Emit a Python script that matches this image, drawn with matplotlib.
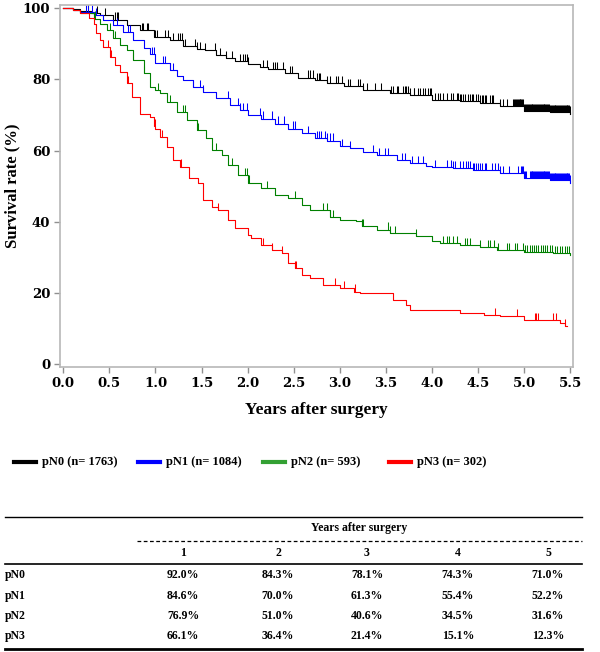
import numpy as np
import matplotlib.pyplot as plt
from matplotlib.lines import Line2D

groups = ['pN0', 'pN1', 'pN2', 'pN3']
n_patients = [1763, 1084, 593, 302]
colors = ['#000000', '#0000ff', '#008000', '#ff0000']
legend_colors = ['#000000', '#0000ff', '#33a033', '#ff0000']

# Kaplan-Meier step points (years, survival %)
t_pn0 = [0, 0.10, 0.18, 0.30, 0.40, 0.54, 0.69, 0.83, 0.98, 1.16, 1.30, 1.45, 1.54, 1.66, 1.76,
         1.86, 2.00, 2.13, 2.22, 2.40, 2.55, 2.73, 2.86, 3.04, 3.25, 3.54, 3.76, 4.00, 4.30, 4.52,
         4.74, 5.00, 5.28, 5.50]
s_pn0 = [100, 99.7, 99.2, 98.6, 98.0, 96.8, 95.2, 93.8, 92.0, 91.0, 89.4, 88.6, 88.2, 86.8, 86.0,
         85.1, 84.3, 83.5, 82.8, 81.7, 80.5, 79.8, 78.9, 78.1, 77.0, 76.2, 75.5, 74.3, 74.0, 73.5,
         72.6, 71.0, 70.8, 70.4]

t_pn1 = [0, 0.10, 0.18, 0.33, 0.43, 0.54, 0.65, 0.76, 0.87, 0.94, 1.00, 1.16, 1.23, 1.30, 1.41,
         1.52, 1.66, 1.81, 1.92, 2.00, 2.15, 2.30, 2.44, 2.59, 2.73, 2.86, 3.00, 3.11, 3.25, 3.40,
         3.62, 3.76, 3.94, 4.00, 4.23, 4.45, 4.74, 5.00, 5.28, 5.50]
s_pn1 = [100, 99.6, 99.0, 98.0, 96.6, 95.2, 93.3, 91.1, 88.7, 87.0, 84.6, 82.6, 81.0, 79.8, 77.9,
         76.5, 74.7, 72.8, 71.4, 70.0, 69.0, 67.6, 66.2, 64.8, 63.6, 62.8, 61.3, 60.6, 59.7, 58.7,
         57.3, 56.4, 55.7, 55.4, 55.0, 54.5, 53.6, 52.2, 51.7, 51.0]

t_pn2 = [0, 0.10, 0.18, 0.33, 0.40, 0.47, 0.54, 0.61, 0.69, 0.76, 0.87, 0.94, 1.00, 1.05, 1.12,
         1.23, 1.34, 1.45, 1.55, 1.61, 1.72, 1.79, 1.90, 2.00, 2.15, 2.30, 2.44, 2.59, 2.68, 2.89,
         3.00, 3.18, 3.24, 3.40, 3.54, 3.83, 4.00, 4.09, 4.30, 4.52, 4.70, 5.00, 5.31, 5.50]
s_pn2 = [100, 99.5, 98.7, 97.1, 95.7, 93.8, 91.5, 89.6, 88.2, 85.4, 81.7, 77.9, 76.9, 76.1, 73.7,
         70.9, 68.6, 65.8, 63.4, 60.1, 58.7, 55.9, 53.1, 51.0, 49.4, 47.5, 46.6, 44.7, 43.3, 41.4,
         40.6, 40.1, 38.7, 37.8, 36.8, 35.9, 34.5, 34.0, 33.5, 33.0, 32.0, 31.6, 31.2, 30.7]

t_pn3 = [0, 0.10, 0.18, 0.28, 0.33, 0.36, 0.40, 0.43, 0.51, 0.56, 0.61, 0.69, 0.74, 0.83, 0.94,
         0.98, 1.00, 1.05, 1.12, 1.19, 1.27, 1.36, 1.46, 1.52, 1.61, 1.68, 1.79, 1.86, 2.00, 2.04,
         2.15, 2.26, 2.37, 2.44, 2.51, 2.59, 2.68, 2.82, 3.00, 3.15, 3.22, 3.58, 3.72, 3.76, 4.00,
         4.30, 4.56, 4.74, 5.00, 5.39, 5.44, 5.47]
s_pn3 = [100, 99.6, 98.6, 97.2, 95.7, 93.0, 91.0, 89.1, 86.3, 84.0, 82.1, 78.9, 75.1, 70.4, 69.5,
         67.0, 66.1, 63.9, 61.1, 57.3, 55.5, 52.2, 50.8, 46.1, 44.2, 43.3, 40.5, 38.2, 36.4, 35.4,
         33.5, 32.1, 31.2, 28.3, 26.9, 25.1, 24.1, 22.3, 21.4, 20.4, 19.9, 18.0, 16.6, 15.2, 15.1,
         14.3, 13.8, 13.4, 12.3, 11.5, 10.8, 10.8]

# censored observations (years)
c_pn0 = [0.27, 0.37, 0.45, 0.56, 0.58, 0.59, 0.85, 0.86, 0.91, 0.92, 0.99, 1.02, 1.10, 1.14, 1.19,
         1.24, 1.27, 1.29, 1.32, 1.43, 1.45, 1.48, 1.54, 1.65, 1.70, 1.77, 1.83, 1.92, 1.95, 1.97,
         1.99, 2.00, 2.17, 2.21, 2.27, 2.30, 2.32, 2.38, 2.46, 2.48, 2.66, 2.68, 2.71, 2.75, 2.77,
         2.78, 2.86, 2.89, 2.96, 2.98, 3.02, 3.09, 3.11, 3.20, 3.22, 3.25, 3.29, 3.38, 3.45, 3.56,
         3.58, 3.62, 3.63, 3.69, 3.71, 3.72, 3.74, 3.76, 3.80, 3.81, 3.85, 3.87, 3.90, 3.92, 3.96,
         3.98, 3.99, 4.03, 4.07, 4.09, 4.12, 4.16, 4.21, 4.23, 4.27, 4.28, 4.30, 4.32, 4.34, 4.36,
         4.39, 4.41, 4.43, 4.45, 4.48, 4.50, 4.52, 4.54, 4.55, 4.57, 4.59, 4.63, 4.65, 4.66, 4.74,
         4.77, 4.81, 4.88, 4.89, 4.90, 4.91, 4.92, 4.93, 4.94, 4.95, 4.96, 4.97, 4.98, 4.99, 5.00,
         5.01, 5.02, 5.03, 5.04, 5.05, 5.06, 5.07, 5.08, 5.09, 5.10, 5.11, 5.12, 5.13, 5.14, 5.15,
         5.16, 5.17, 5.18, 5.19, 5.20, 5.21, 5.22, 5.23, 5.24, 5.25, 5.26, 5.27, 5.28, 5.29, 5.30,
         5.31, 5.32, 5.33, 5.34, 5.35, 5.36, 5.37, 5.38, 5.39, 5.40, 5.41, 5.42, 5.43, 5.44, 5.45,
         5.46, 5.47, 5.48, 5.49, 5.50]
c_pn1 = [0.25, 0.27, 0.31, 0.36, 0.58, 0.70, 0.72, 0.96, 0.98, 1.08, 1.10, 1.16, 1.19, 1.41, 1.48,
         1.52, 1.79, 1.90, 1.92, 1.95, 1.99, 2.13, 2.17, 2.26, 2.33, 2.39, 2.49, 2.51, 2.66, 2.75,
         2.77, 2.80, 2.84, 2.86, 2.89, 2.93, 3.02, 3.11, 3.36, 3.43, 3.49, 3.52, 3.67, 3.71, 3.78,
         3.85, 3.90, 4.03, 4.16, 4.21, 4.23, 4.25, 4.30, 4.34, 4.37, 4.39, 4.41, 4.45, 4.46, 4.48,
         4.50, 4.52, 4.54, 4.57, 4.59, 4.65, 4.68, 4.72, 4.74, 4.77, 4.84, 4.93, 4.97, 4.98, 4.99,
         5.00, 5.01, 5.02, 5.06, 5.07, 5.08, 5.09, 5.10, 5.11, 5.12, 5.13, 5.14, 5.15, 5.16, 5.17,
         5.18, 5.19, 5.20, 5.21, 5.22, 5.23, 5.24, 5.25, 5.26, 5.27, 5.28, 5.29, 5.30, 5.31, 5.32,
         5.33, 5.34, 5.35, 5.36, 5.37, 5.38, 5.39, 5.40, 5.41, 5.42, 5.43, 5.44, 5.45, 5.46, 5.47,
         5.48, 5.49, 5.50]
c_pn2 = [0.34, 0.51, 0.56, 0.76, 0.87, 1.03, 1.16, 1.30, 1.32, 1.46, 1.66, 1.83, 1.97, 1.99, 2.01,
         2.21, 2.51, 2.82, 2.86, 2.89, 2.93, 3.24, 3.25, 3.52, 3.54, 3.60, 3.83, 4.12, 4.16, 4.19,
         4.23, 4.27, 4.36, 4.38, 4.41, 4.52, 4.61, 4.63, 4.67, 4.72, 4.81, 4.84, 4.90, 4.92, 4.99,
         5.01, 5.03, 5.06, 5.08, 5.11, 5.13, 5.15, 5.18, 5.20, 5.23, 5.25, 5.28, 5.30, 5.34, 5.36,
         5.39, 5.41, 5.44, 5.46, 5.49]
c_pn3 = [0.49, 0.52, 0.70, 0.99, 1.07, 1.12, 1.28, 1.68, 2.17, 2.26, 2.37, 2.51, 2.53, 2.95, 3.05,
         3.16, 4.68, 4.92, 5.12, 5.13, 5.15, 5.31, 5.35, 5.44]

times = [t_pn0, t_pn1, t_pn2, t_pn3]
survival = [s_pn0, s_pn1, s_pn2, s_pn3]
censored = [c_pn0, c_pn1, c_pn2, c_pn3]

# survival table
table_years = [1, 2, 3, 4, 5]
rate_pn0 = [92.0, 84.3, 78.1, 74.3, 71.0]
rate_pn1 = [84.6, 70.0, 61.3, 55.4, 52.2]
rate_pn2 = [76.9, 51.0, 40.6, 34.5, 31.6]
rate_pn3 = [66.1, 36.4, 21.4, 15.1, 12.3]
rates = [rate_pn0, rate_pn1, rate_pn2, rate_pn3]

W, H = 600, 652
fig = plt.figure(figsize=(W / 100, H / 100), dpi=100)


def fx(px):
    return px / W


def fy(py):
    return 1 - py / H


ax = fig.add_axes([fx(60), fy(367), fx(573) - fx(60), fy(5) - fy(367)])

for t, s, c, col in zip(times, survival, censored, colors):
    t = np.array(t)
    s = np.array(s)
    ax.step(t, s, where='post', color=col, lw=0.8)
    c = np.array(c)
    idx = np.searchsorted(t, c, side='right') - 1
    sc = s[idx]
    ax.vlines(c, sc, sc + 2.0, color=col, lw=0.75)

ax.set_xlim(-0.036, 5.53)
ax.set_ylim(-0.8, 100.9)
ax.set_xticks(np.arange(0, 5.51, 0.5))
ax.set_xticklabels([f'{v:.1f}' for v in np.arange(0, 5.51, 0.5)])
ax.set_yticks([0, 20, 40, 60, 80, 100])

for lab in ax.get_xticklabels() + ax.get_yticklabels():
    lab.set_fontfamily('DejaVu Serif')
    lab.set_fontweight('bold')
    lab.set_fontsize(9.5)

for sp in ax.spines.values():
    sp.set_color('#b8b8b8')
    sp.set_linewidth(1.2)
ax.tick_params(direction='out', length=4, width=1, color='#909090', pad=3)

ax.set_xlabel('Years after surgery', family='Liberation Serif', weight='bold', size=12.5, labelpad=9)
ax.set_ylabel('Survival rate (%)', family='Liberation Serif', weight='bold', size=12, labelpad=2)

# legend row
leg_x = [14, 138, 263, 389]
for x0, g, n, col in zip(leg_x, groups, n_patients, legend_colors):
    fig.add_artist(Line2D([fx(x0), fx(x0 + 22)], [fy(462), fy(462)], color=col, lw=3))
    fig.text(fx(x0 + 28), fy(462), f'{g} (n= {n})', family='Liberation Serif', weight='bold',
             size=9, va='center', ha='left')

# table
tfont = dict(family='Liberation Serif', weight='bold', size=8.5)
fig.add_artist(Line2D([fx(5), fx(582)], [fy(517), fy(517)], color='black', lw=1))
fig.text(fx(359), fy(528), 'Years after surgery', ha='center', va='center', **tfont)
fig.add_artist(Line2D([fx(137), fx(582)], [fy(541), fy(541)], color='black', lw=0.9,
                      ls=(0, (3, 2))))
col_x = [183, 278, 367, 458, 548]
for x, yr in zip(col_x, table_years):
    fig.text(fx(x), fy(553), str(yr), ha='center', va='center', **tfont)
fig.add_artist(Line2D([fx(5), fx(582)], [fy(564), fy(564)], color='black', lw=1.2))
row_y = [575, 596, 616, 636]
for y, g, r in zip(row_y, groups, rates):
    fig.text(fx(5), fy(y), g, ha='left', va='center', **tfont)
    for x, v in zip(col_x, r):
        fig.text(fx(x), fy(y), f'{v:.1f}%', ha='center', va='center', **tfont)
fig.add_artist(Line2D([fx(5), fx(582)], [fy(649), fy(649)], color='black', lw=2))

fig.savefig('out.png', dpi=100)
